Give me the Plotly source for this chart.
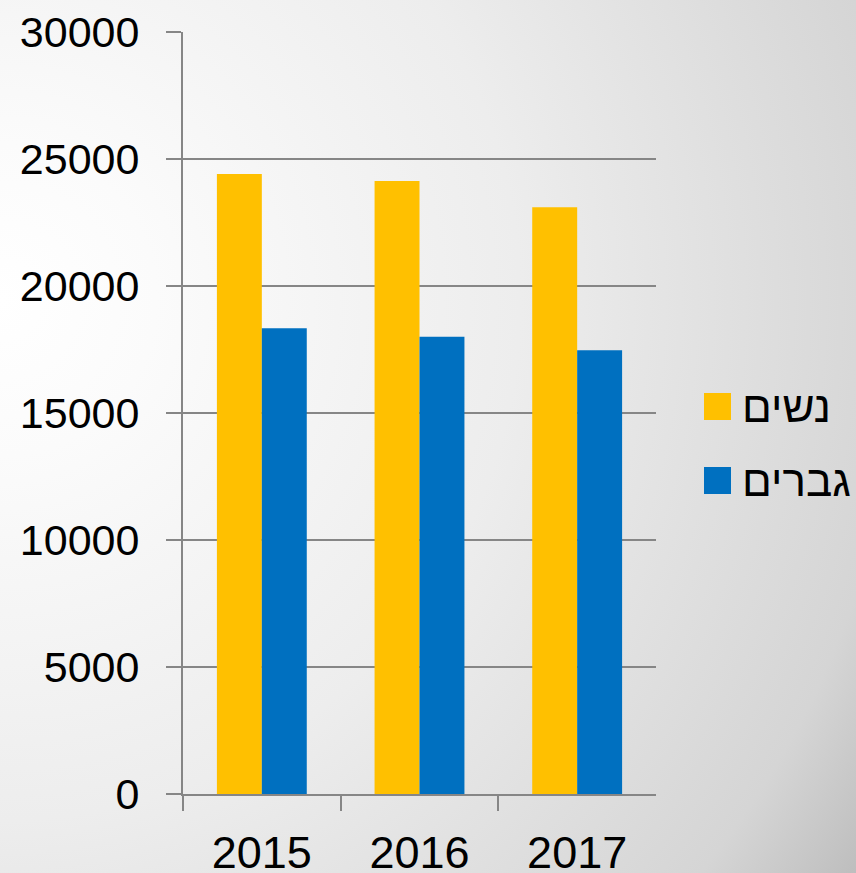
import base64

import plotly.graph_objects as go

years = ["2015", "2016", "2017"]
women = [24410, 24130, 23100]
men = [18340, 18000, 17470]
series_names = ["נשים", "גברים"]
y_ticks = [0, 5000, 10000, 15000, 20000, 25000, 30000]

W, H = 856, 873
YELLOW = "#FFC000"
BLUE = "#0070C0"
GRID = "#868686"
FONT = "Liberation Sans, Arial, sans-serif"


def px_x(x):
    return x / W


def px_y(y):
    return 1 - y / H


# soft radial background: white on the left, grey toward the right edge
svg = f"""<svg xmlns='http://www.w3.org/2000/svg' width='{W}' height='{H}' viewBox='0 0 {W} {H}'>
<defs><radialGradient id='g' gradientUnits='userSpaceOnUse' cx='0' cy='300' r='1040'>
<stop offset='0' stop-color='#ffffff'/>
<stop offset='0.15' stop-color='#fbfbfb'/>
<stop offset='0.5' stop-color='#ededed'/>
<stop offset='0.87' stop-color='#d5d5d5'/>
<stop offset='1' stop-color='#bcbcbc'/>
</radialGradient></defs>
<rect width='{W}' height='{H}' fill='url(#g)'/></svg>"""
bg_src = "data:image/svg+xml;base64," + base64.b64encode(svg.encode()).decode()

fig = go.Figure()
fig.add_trace(go.Bar(x=years, y=women, name=series_names[0], marker=dict(color=YELLOW, line=dict(width=0))))
fig.add_trace(go.Bar(x=years, y=men, name=series_names[1], marker=dict(color=BLUE, line=dict(width=0))))

fig.update_layout(
    width=W,
    height=H,
    margin=dict(l=0, r=0, t=0, b=0),
    paper_bgcolor="white",
    plot_bgcolor="rgba(0,0,0,0)",
    barmode="group",
    bargap=0.43,
    bargroupgap=0,
    showlegend=False,
    font=dict(family=FONT, color="black"),
    images=[
        dict(
            source=bg_src,
            xref="paper",
            yref="paper",
            x=0,
            y=1,
            sizex=1,
            sizey=1,
            sizing="stretch",
            xanchor="left",
            yanchor="top",
            layer="below",
        )
    ],
)

fig.update_xaxes(
    type="category",
    domain=[px_x(183), px_x(656)],
    range=[-0.5, 2.5],
    automargin=False,
    showline=True,
    linecolor=GRID,
    linewidth=2,
    ticks="outside",
    tickson="boundaries",
    ticklen=15,
    tickcolor=GRID,
    tickwidth=2,
    ticklabelstandoff=18,
    tickfont=dict(size=45, family=FONT),
    showgrid=False,
)

fig.update_yaxes(
    domain=[px_y(794), px_y(32)],
    range=[0, 30000],
    tickvals=y_ticks,
    ticktext=[str(v) for v in y_ticks],
    automargin=False,
    showline=True,
    linecolor=GRID,
    linewidth=2,
    ticks="outside",
    ticklen=15,
    tickcolor=GRID,
    tickwidth=2,
    ticklabelstandoff=18,
    tickfont=dict(size=43, family=FONT),
    showgrid=True,
    gridcolor=GRID,
    gridwidth=2,
    zeroline=False,
)

# legend drawn by hand so the swatches can match the reference size
legend_rows = [(YELLOW, series_names[0], 393), (BLUE, series_names[1], 467)]
for color, label, top in legend_rows:
    fig.add_shape(
        type="rect",
        xref="paper",
        yref="paper",
        x0=px_x(704),
        x1=px_x(731),
        y0=px_y(top + 27),
        y1=px_y(top),
        fillcolor=color,
        line=dict(width=0),
    )
    fig.add_annotation(
        xref="paper",
        yref="paper",
        x=px_x(740),
        y=px_y(top + 13),
        xanchor="left",
        yanchor="middle",
        text=label,
        showarrow=False,
        font=dict(size=44, family=FONT, color="black"),
    )

# drop the default body margin so the figure fills the window exactly
fig.write_html(
    "out.html",
    config={"displayModeBar": False},
    post_script="document.body.style.margin='0';",
)
